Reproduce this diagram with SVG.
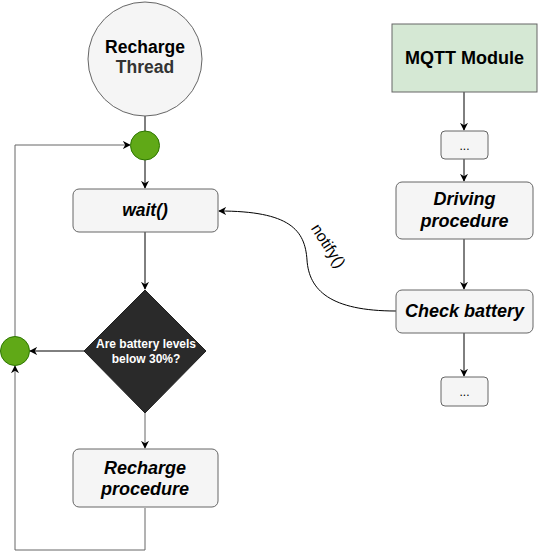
<svg xmlns="http://www.w3.org/2000/svg" width="538" height="559" viewBox="0 0 538 559">
<style>
.box{fill:#f5f5f5;stroke:#666666;stroke-width:1}
.dot{fill:#60a917;stroke:#2d7600;stroke-width:1}
.t{font-family:"Liberation Sans",Arial,sans-serif;text-anchor:middle;fill:#000}
.bi{font-weight:bold;font-style:italic;font-size:18px}
.e{fill:none;stroke:#000;stroke-width:1}
.g{fill:none;stroke:#666;stroke-width:1}
</style>
<defs>
<marker id="a" viewBox="0 0 10 10" refX="9" refY="5" markerWidth="8" markerHeight="8" markerUnits="userSpaceOnUse" orient="auto">
<path d="M0,0 L10,5 L0,10 L3,5 Z" fill="#000"/>
</marker>
</defs>
<g id="connectors">
<path class="e" d="M145,116 V131"/>
<path class="e" d="M145,160 V188" marker-end="url(#a)"/>
<path class="e" d="M145,232 V289" marker-end="url(#a)"/>
<path class="g" d="M145,413 V448" marker-end="url(#a)"/>
<path class="e" d="M84,351 H30" marker-end="url(#a)"/>
<path class="g" d="M15,336 V145 H130" marker-end="url(#a)"/>
<path class="g" d="M145,508 V550 H15 V366" marker-end="url(#a)"/>
<path class="e" d="M464,92 V130" marker-end="url(#a)"/>
<path class="e" d="M464,159 V181" marker-end="url(#a)"/>
<path class="e" d="M464,239 V289" marker-end="url(#a)"/>
<path class="e" d="M464,333 V376" marker-end="url(#a)"/>
<path class="e" d="M396,311 C330,311 309,290 307,260 C305,230 290,211 219,211" marker-end="url(#a)"/>
<text class="t" x="328" y="251" font-size="16" transform="rotate(57 328 246)">notify()</text>
</g>
<g id="recharge-thread">
<circle cx="145" cy="59" r="57" class="box"/>
<text class="t" x="145" y="53" font-size="17.5" font-weight="bold">Recharge</text>
<text class="t" x="145" y="73" font-size="17.5" font-weight="bold" fill="#333333" style="fill:#333333">Thread</text>
</g>
<g id="merge-top"><circle cx="145" cy="145.5" r="14.5" class="dot"/></g>
<g id="wait">
<rect x="73" y="189" width="145" height="43" rx="6" class="box"/>
<text class="t bi" x="145" y="216" style="font-size:17.5px">wait()</text>
</g>
<g id="decision">
<path d="M145,290 L206,351 L145,413 L84,351 Z" fill="#2a2a2a" stroke="#222"/>
<text class="t" x="146" y="348" font-size="12" font-weight="bold" style="fill:#ffffff">Are battery levels</text>
<text class="t" x="146" y="363" font-size="12" font-weight="bold" style="fill:#ffffff">below 30%?</text>
</g>
<g id="merge-left"><circle cx="15" cy="351" r="14.5" class="dot"/></g>
<g id="recharge-procedure">
<rect x="73" y="449" width="145" height="58" rx="6" class="box"/>
<text class="t bi" x="145" y="474">Recharge</text>
<text class="t bi" x="145" y="495">procedure</text>
</g>
<g id="mqtt">
<rect x="392" y="24" width="145" height="68" fill="#d5e8d4" stroke="#666666"/>
<text class="t" x="464.5" y="64" font-size="18" font-weight="bold">MQTT Module</text>
</g>
<g id="ellipsis-top">
<rect x="441" y="131" width="47" height="28" rx="4" class="box"/>
<text class="t" x="464.5" y="150" font-size="12">...</text>
</g>
<g id="driving">
<rect x="396" y="182" width="137" height="57" rx="6" class="box"/>
<text class="t bi" x="464.5" y="205">Driving</text>
<text class="t bi" x="464.5" y="227">procedure</text>
</g>
<g id="check-battery">
<rect x="396" y="290" width="137" height="43" rx="6" class="box"/>
<text class="t bi" x="464.5" y="317">Check battery</text>
</g>
<g id="ellipsis-bottom">
<rect x="441" y="377" width="47" height="29" rx="4" class="box"/>
<text class="t" x="464.5" y="396" font-size="12">...</text>
</g>
</svg>
